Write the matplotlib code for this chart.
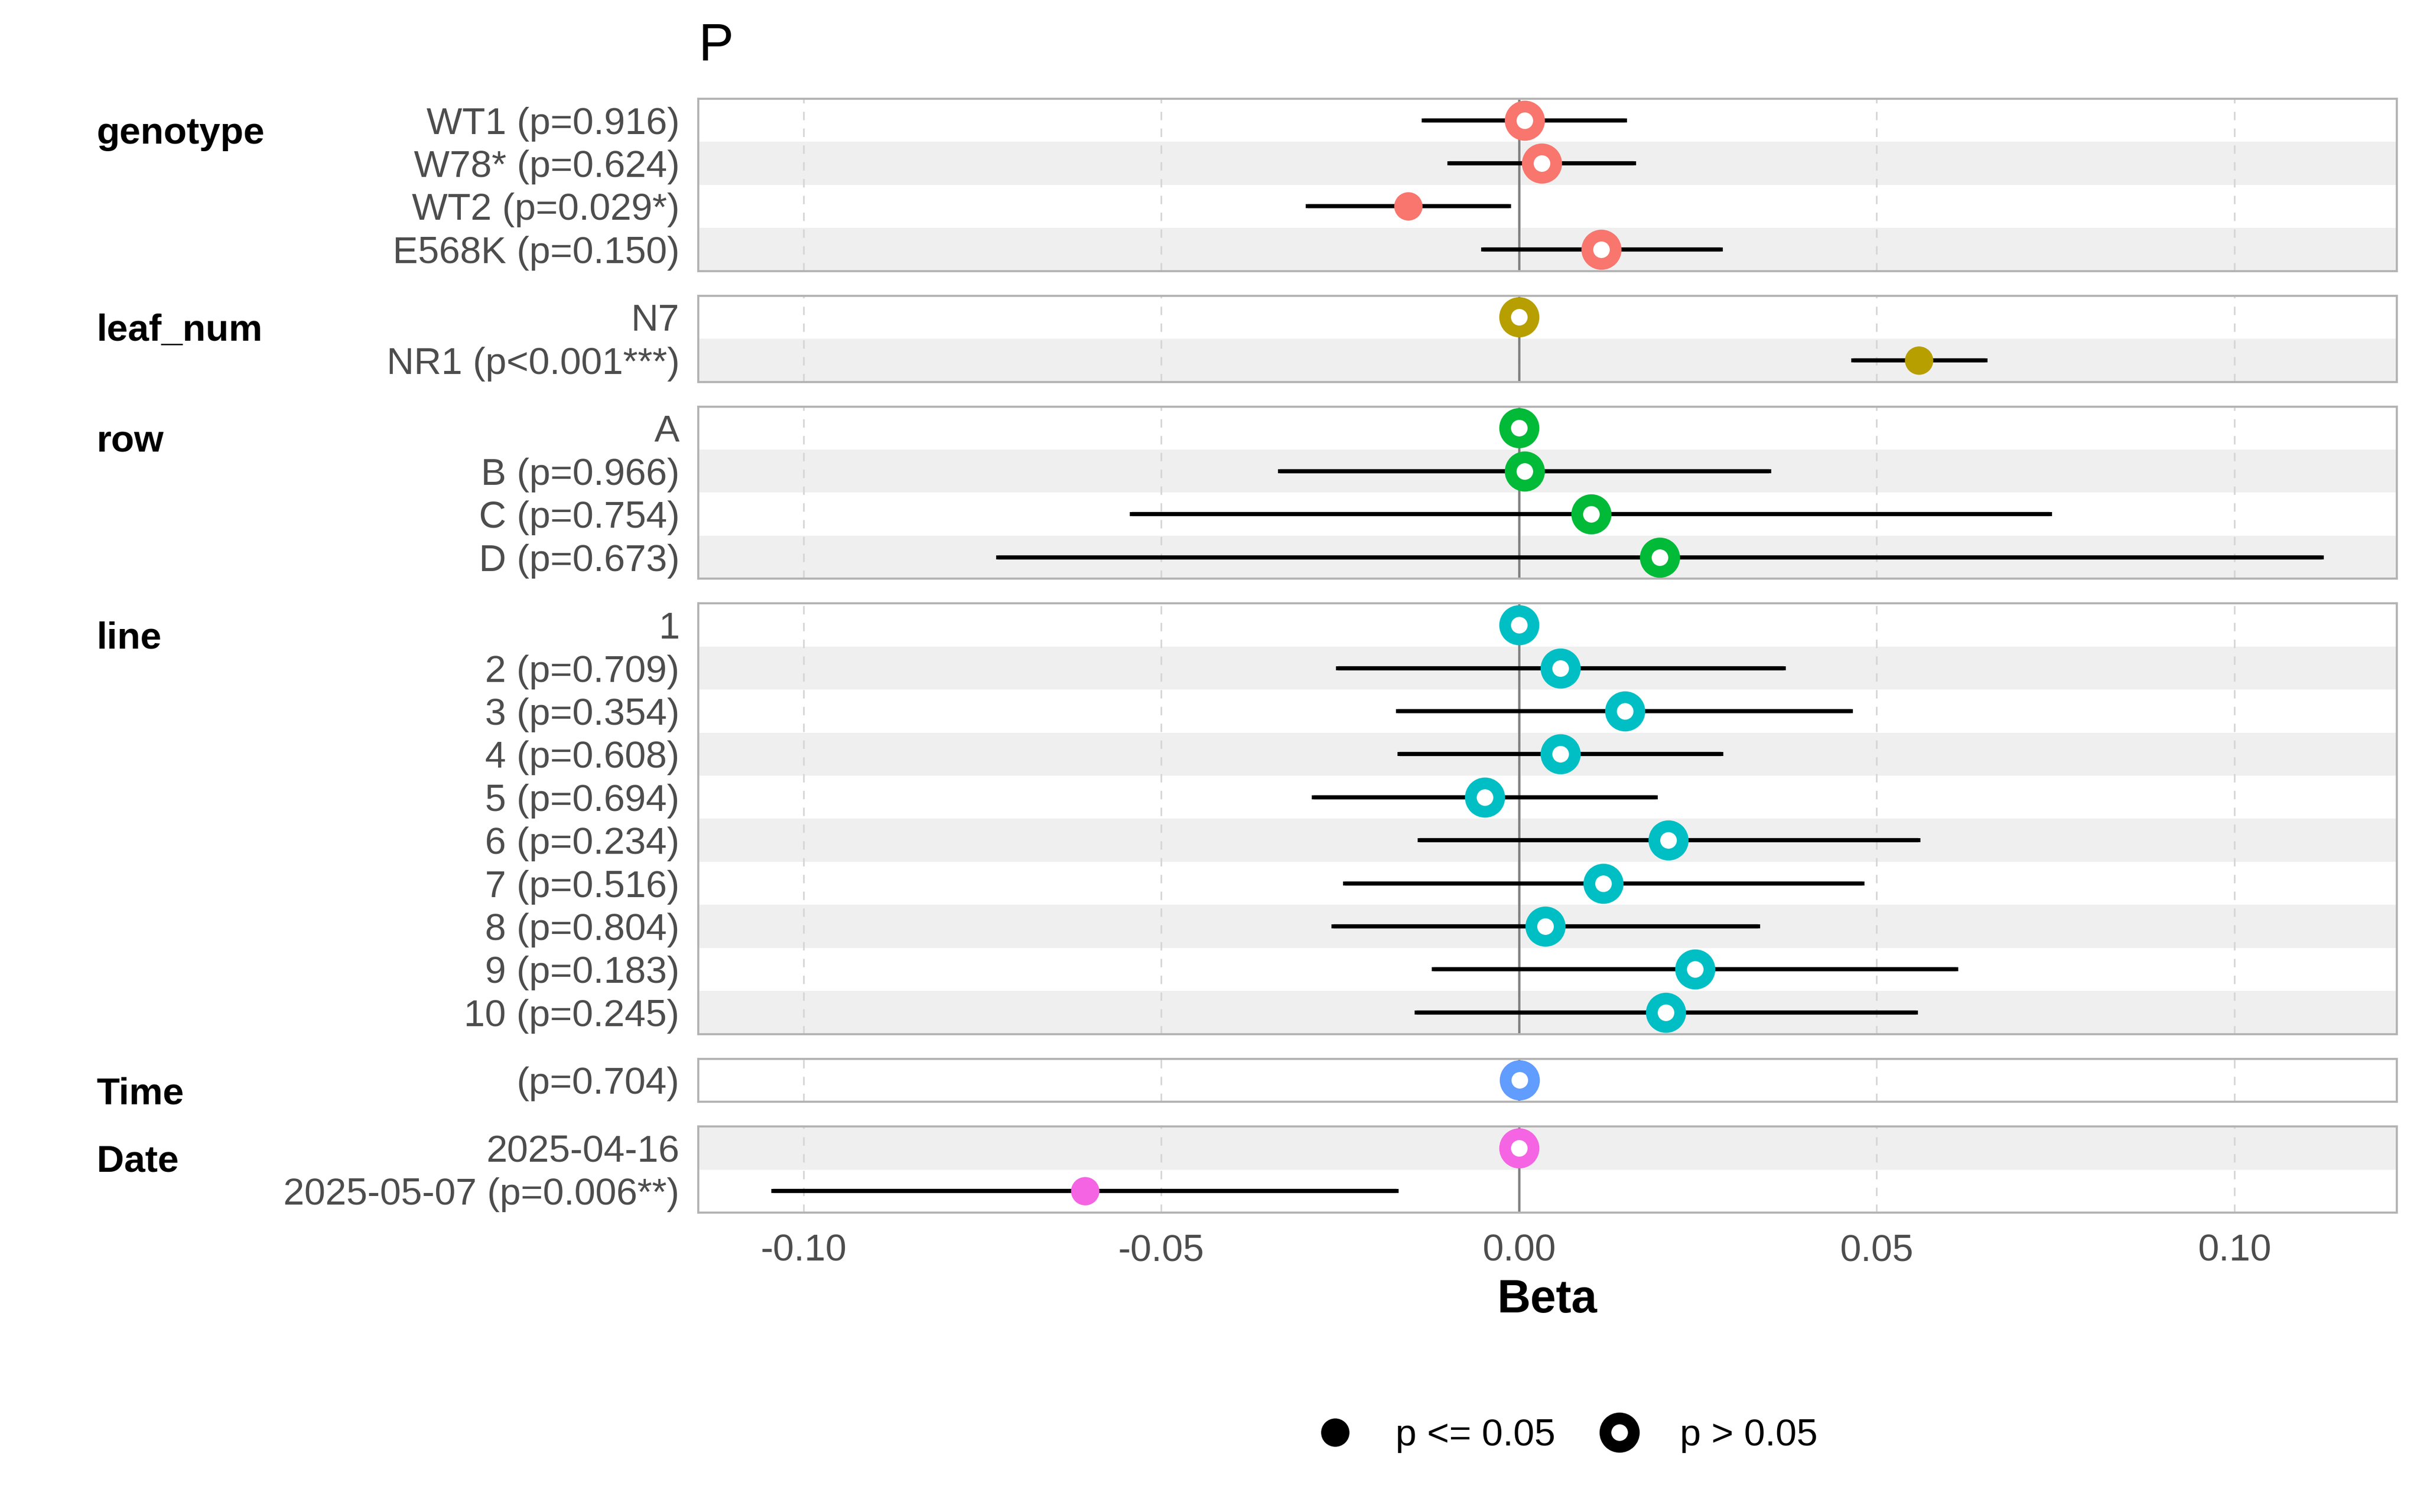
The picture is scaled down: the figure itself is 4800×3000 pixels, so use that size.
import numpy as np
import matplotlib.pyplot as plt
from matplotlib.lines import Line2D

plt.rcParams['font.family'] = ['Liberation Sans', 'DejaVu Sans']

nan = np.nan

# one entry per factor, rows listed top to bottom
groups = ['genotype', 'leaf_num', 'row', 'line', 'Time', 'Date']
group_colors = ['#F8766D', '#B79F00', '#00BA38', '#00BFC4', '#619CFF', '#F564E3']

geno_labels = ['WT1 (p=0.916)', 'W78* (p=0.624)', 'WT2 (p=0.029*)', 'E568K (p=0.150)']
geno_beta = [0.0008, 0.0032, -0.0155, 0.0115]
geno_lo = [-0.0133, -0.0097, -0.0295, -0.0050]
geno_hi = [0.0148, 0.0161, -0.0014, 0.0282]
geno_p = [0.916, 0.624, 0.029, 0.150]

leaf_labels = ['N7', 'NR1 (p<0.001***)']
leaf_beta = [0.0, 0.0559]
leaf_lo = [nan, 0.0467]
leaf_hi = [nan, 0.0652]
leaf_p = [nan, 0.0005]

row_labels = ['A', 'B (p=0.966)', 'C (p=0.754)', 'D (p=0.673)']
row_beta = [0.0, 0.0008, 0.0101, 0.0197]
row_lo = [nan, -0.0334, -0.0541, -0.0728]
row_hi = [nan, 0.0350, 0.0742, 0.1122]
row_p = [nan, 0.966, 0.754, 0.673]

line_labels = ['1', '2 (p=0.709)', '3 (p=0.354)', '4 (p=0.608)', '5 (p=0.694)',
               '6 (p=0.234)', '7 (p=0.516)', '8 (p=0.804)', '9 (p=0.183)', '10 (p=0.245)']
line_beta = [0.0, 0.0058, 0.0148, 0.0058, -0.0048, 0.0209, 0.0118, 0.0037, 0.0246, 0.0205]
line_lo = [nan, -0.0253, -0.0169, -0.0167, -0.0287, -0.0139, -0.0243, -0.0259, -0.0119, -0.0143]
line_hi = [nan, 0.0370, 0.0464, 0.0283, 0.0191, 0.0558, 0.0480, 0.0334, 0.0611, 0.0555]
line_p = [nan, 0.709, 0.354, 0.608, 0.694, 0.234, 0.516, 0.804, 0.183, 0.245]

time_labels = ['(p=0.704)']
time_beta = [0.0001]
time_lo = [-0.0003]
time_hi = [0.0005]
time_p = [0.704]

date_labels = ['2025-04-16', '2025-05-07 (p=0.006**)']
date_beta = [0.0, -0.0607]
date_lo = [nan, -0.1042]
date_hi = [nan, -0.0171]
date_p = [nan, 0.006]

panels = [
    (geno_labels, geno_beta, geno_lo, geno_hi, geno_p),
    (leaf_labels, leaf_beta, leaf_lo, leaf_hi, leaf_p),
    (row_labels, row_beta, row_lo, row_hi, row_p),
    (line_labels, line_beta, line_lo, line_hi, line_p),
    (time_labels, time_beta, time_lo, time_hi, time_p),
    (date_labels, date_beta, date_lo, date_hi, date_p),
]

xticks = [-0.10, -0.05, 0.0, 0.05, 0.10]

fig = plt.figure(figsize=(16, 10), dpi=300)
nrows = [len(p[0]) for p in panels]
gs = fig.add_gridspec(len(panels), 1, height_ratios=nrows,
                      left=0.2886, right=0.9904, top=0.9347, bottom=0.198, hspace=0.15)

row_count = 0
for k, (labels, beta, lo, hi, pv) in enumerate(panels):
    ax = fig.add_subplot(gs[k])
    n = len(labels)
    y = np.arange(1, n + 1)
    beta = np.array(beta)
    lo = np.array(lo)
    hi = np.array(hi)
    pv = np.array(pv)
    col = group_colors[k]

    ax.set_xlim(-0.1147, 0.1227)
    ax.set_ylim(n + 0.5, 0.5)

    # alternating bands, counted over all rows of the figure
    for i in range(n):
        if (row_count + i) % 2 == 1:
            ax.axhspan(i + 0.5, i + 1.5, color='#efefef', lw=0, zorder=0)
    row_count += n

    for t in xticks:
        ax.axvline(t, color='#d6d6d6', lw=0.8, ls=(0, (5, 5)), zorder=0.5)
    ax.axvline(0, color='#808080', lw=1.1, zorder=1)

    ok = ~np.isnan(lo)
    ax.errorbar(beta[ok], y[ok], xerr=[beta[ok] - lo[ok], hi[ok] - beta[ok]],
                fmt='none', ecolor='black', elinewidth=2.0, capsize=1, capthick=2.0, zorder=2)

    sig = pv <= 0.05
    ax.plot(beta[sig], y[sig], 'o', ls='none', ms=13.5, color=col, mew=0, zorder=3)
    ax.plot(beta[~sig], y[~sig], 'o', ls='none', ms=13.5, mfc='white', mec=col, mew=5.6, zorder=3)

    ax.set_yticks(y)
    ax.set_yticklabels(labels)
    ax.tick_params(axis='y', length=0, pad=9, labelsize=18, labelcolor='#4d4d4d')
    ax.set_xticks(xticks)
    last = k == len(panels) - 1
    ax.tick_params(axis='x', length=0, pad=10, labelsize=18, labelcolor='#4d4d4d',
                   labelbottom=last)
    if last:
        ax.set_xticklabels(['%.2f' % t for t in xticks])
        ax.set_xlabel('Beta', fontweight='bold', fontsize=22, labelpad=5)

    for s in ax.spines.values():
        s.set_color('#b3b3b3')
        s.set_linewidth(1.0)

    ax.annotate(groups[k], xy=(0.0399, 1), xycoords=('figure fraction', 'axes fraction'),
                xytext=(0, -21.5), textcoords='offset points', va='baseline', ha='left',
                fontsize=18, fontweight='bold')

fig.text(0.2886, 0.96, 'P', fontsize=25, va='baseline', ha='left')

handles = [
    Line2D([], [], marker='o', ls='none', color='black', ms=13.5, mew=0),
    Line2D([], [], marker='o', ls='none', mfc='white', mec='black', ms=13.5, mew=5.6),
]
fig.legend(handles, ['p <= 0.05', 'p > 0.05'], loc='center', bbox_to_anchor=(0.6475, 0.0505),
           ncol=2, frameon=False, fontsize=18, handlelength=1, handletextpad=1.1,
           columnspacing=1.2)

fig.savefig('out.png', dpi=300)
plt.close()
